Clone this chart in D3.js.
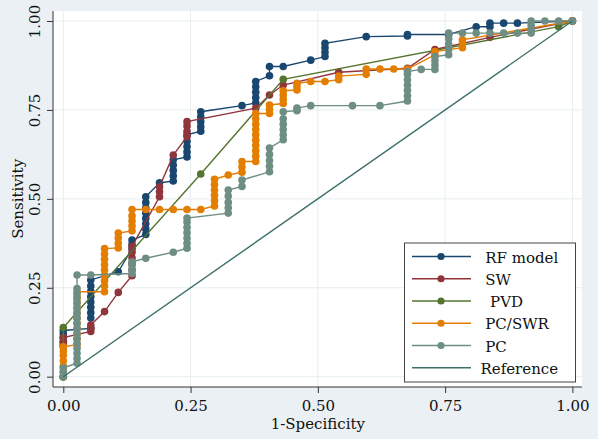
<!DOCTYPE html>
<html>
<head>
<meta charset="utf-8">
<script src="https://cdn.jsdelivr.net/npm/d3@7"></script>
<style>
  html, body { margin: 0; padding: 0; background: #fff; }
  svg { display: block; }
  text { font-family: "DejaVu Serif", serif; fill: #111; }
</style>
</head>
<body>
<div id="chart"></div>
<script>
// ROC points, [1-specificity, sensitivity]
const rfModel = [
  [0, 0], [0, 0.09], [0, 0.10], [0, 0.11], [0, 0.12], [0, 0.13],
  [0.054, 0.136], [0.054, 0.165], [0.054, 0.18], [0.054, 0.195], [0.054, 0.21], [0.054, 0.225], [0.054, 0.24], [0.054, 0.255], [0.054, 0.272],
  [0.108, 0.295],
  [0.135, 0.36], [0.135, 0.372], [0.135, 0.384],
  [0.162, 0.40], [0.162, 0.415], [0.162, 0.43], [0.162, 0.445], [0.162, 0.46], [0.162, 0.475], [0.162, 0.49], [0.162, 0.506],
  [0.189, 0.545],
  [0.216, 0.55], [0.216, 0.565], [0.216, 0.58], [0.216, 0.595], [0.216, 0.61],
  [0.243, 0.618], [0.243, 0.632], [0.243, 0.647], [0.243, 0.662], [0.243, 0.68],
  [0.270, 0.69], [0.270, 0.703], [0.270, 0.717], [0.270, 0.731], [0.270, 0.745],
  [0.351, 0.762],
  [0.378, 0.77], [0.378, 0.785], [0.378, 0.80], [0.378, 0.815], [0.378, 0.83],
  [0.405, 0.846], [0.405, 0.872],
  [0.432, 0.872],
  [0.486, 0.89],
  [0.514, 0.90], [0.514, 0.912], [0.514, 0.925], [0.514, 0.937],
  [0.595, 0.956],
  [0.676, 0.958], [0.676, 0.962],
  [0.757, 0.962],
  [0.811, 0.984],
  [0.838, 0.984], [0.838, 0.994],
  [0.865, 0.994], [0.892, 0.994],
  [1, 1]
];

const sw = [
  [0, 0], [0, 0.085], [0, 0.097], [0, 0.11],
  [0.054, 0.127], [0.054, 0.136], [0.054, 0.145],
  [0.081, 0.183],
  [0.108, 0.237],
  [0.135, 0.284], [0.135, 0.30], [0.135, 0.318], [0.135, 0.334], [0.135, 0.35], [0.135, 0.366],
  [0.189, 0.506], [0.189, 0.52], [0.189, 0.534],
  [0.216, 0.623],
  [0.243, 0.675], [0.243, 0.69], [0.243, 0.705], [0.243, 0.717],
  [0.378, 0.755],
  [0.405, 0.792],
  [0.432, 0.82],
  [0.541, 0.856],
  [0.676, 0.867],
  [0.730, 0.92],
  [0.838, 0.954],
  [1, 1]
];

const pvd = [[0, 0], [0, 0.138], [0.270, 0.57], [0.432, 0.836], [0.973, 0.984], [1, 1]];

const pcSwr = [
  [0, 0], [0, 0.015], [0, 0.03], [0, 0.045], [0, 0.06], [0, 0.072], [0, 0.084],
  [0.027, 0.09], [0.027, 0.105], [0.027, 0.12], [0.027, 0.135], [0.027, 0.15], [0.027, 0.165], [0.027, 0.18], [0.027, 0.195], [0.027, 0.21], [0.027, 0.225], [0.027, 0.239],
  [0.081, 0.239], [0.081, 0.255], [0.081, 0.27], [0.081, 0.285], [0.081, 0.30], [0.081, 0.315], [0.081, 0.33], [0.081, 0.345], [0.081, 0.36],
  [0.108, 0.362], [0.108, 0.375], [0.108, 0.39], [0.108, 0.404],
  [0.135, 0.41], [0.135, 0.424], [0.135, 0.438], [0.135, 0.452], [0.135, 0.47],
  [0.162, 0.47], [0.189, 0.47], [0.216, 0.47], [0.243, 0.47], [0.270, 0.47],
  [0.297, 0.48], [0.297, 0.495], [0.297, 0.51], [0.297, 0.525], [0.297, 0.54], [0.297, 0.555],
  [0.324, 0.567],
  [0.351, 0.575], [0.351, 0.59], [0.351, 0.605],
  [0.378, 0.605], [0.378, 0.62], [0.378, 0.635], [0.378, 0.65], [0.378, 0.665], [0.378, 0.68], [0.378, 0.695], [0.378, 0.71], [0.378, 0.725], [0.378, 0.74],
  [0.405, 0.74], [0.405, 0.752], [0.405, 0.764],
  [0.432, 0.768], [0.432, 0.78], [0.432, 0.792], [0.432, 0.804],
  [0.459, 0.806], [0.459, 0.816], [0.459, 0.825],
  [0.486, 0.83], [0.514, 0.83],
  [0.541, 0.835], [0.541, 0.845],
  [0.595, 0.85], [0.595, 0.865],
  [0.622, 0.865], [0.649, 0.865], [0.676, 0.865],
  [0.730, 0.905], [0.730, 0.914],
  [0.784, 0.925], [0.784, 0.937], [0.784, 0.947],
  [1, 1]
];

const pc = [
  [0, 0], [0, 0.012], [0, 0.025],
  [0.027, 0.038], [0.027, 0.052], [0.027, 0.066], [0.027, 0.08], [0.027, 0.094], [0.027, 0.108], [0.027, 0.122], [0.027, 0.136], [0.027, 0.15], [0.027, 0.164], [0.027, 0.178], [0.027, 0.192], [0.027, 0.206], [0.027, 0.22], [0.027, 0.234], [0.027, 0.248], [0.027, 0.286],
  [0.054, 0.286],
  [0.135, 0.29], [0.135, 0.302], [0.135, 0.313], [0.135, 0.323],
  [0.162, 0.333],
  [0.216, 0.35],
  [0.243, 0.361], [0.243, 0.375], [0.243, 0.39], [0.243, 0.405], [0.243, 0.42], [0.243, 0.435], [0.243, 0.446],
  [0.324, 0.46], [0.324, 0.475], [0.324, 0.49], [0.324, 0.508], [0.324, 0.525],
  [0.351, 0.535], [0.351, 0.553],
  [0.405, 0.576], [0.405, 0.592], [0.405, 0.608], [0.405, 0.625], [0.405, 0.643],
  [0.432, 0.666], [0.432, 0.68], [0.432, 0.695], [0.432, 0.71], [0.432, 0.725], [0.432, 0.745],
  [0.459, 0.748], [0.459, 0.755],
  [0.486, 0.762], [0.568, 0.762], [0.622, 0.762],
  [0.676, 0.775], [0.676, 0.79], [0.676, 0.805], [0.676, 0.82], [0.676, 0.835], [0.676, 0.85], [0.676, 0.858],
  [0.703, 0.864],
  [0.730, 0.864], [0.730, 0.876], [0.730, 0.888], [0.730, 0.90],
  [0.757, 0.905], [0.757, 0.92], [0.757, 0.935], [0.757, 0.95], [0.757, 0.966],
  [0.784, 0.966], [0.811, 0.966], [0.838, 0.966], [0.865, 0.966], [0.892, 0.966],
  [0.919, 0.966], [0.919, 0.977], [0.919, 0.988], [0.919, 1],
  [0.946, 1], [0.973, 1], [1, 1]
];

const referenceLine = [[0, 0], [1, 1]];

const seriesNames = [' RF model', ' SW', '  PVD', ' PC/SWR', ' PC', 'Reference'];
const seriesColors = ['#1a476f', '#90353b', '#55752f', '#e37e00', '#6e8e84', '#3b6f68'];
const tickValues = [0, 0.25, 0.5, 0.75, 1];

const width = 600;
const height = 439;

const svg = d3.select('#chart')
  .append('svg')
  .attr('width', width)
  .attr('height', height);

// graph region + plot region
svg.append('rect')
  .attr('x', 0).attr('y', 0)
  .attr('width', 598).attr('height', height)
  .attr('fill', '#eaf0f3');

const plot = { left: 53, top: 11, right: 582, bottom: 387 };

svg.append('rect')
  .attr('x', plot.left).attr('y', plot.top)
  .attr('width', plot.right - plot.left)
  .attr('height', plot.bottom - plot.top)
  .attr('fill', '#fff');

const x = d3.scaleLinear().domain([0, 1]).range([63.3, 572.4]);
const y = d3.scaleLinear().domain([0, 1]).range([376.7, 21]);

// grid
const grid = svg.append('g').attr('stroke', '#e6eef1').attr('stroke-width', 1);
tickValues.forEach(t => {
  grid.append('line')
    .attr('x1', plot.left).attr('x2', plot.right)
    .attr('y1', y(t)).attr('y2', y(t));
  grid.append('line')
    .attr('x1', x(t)).attr('x2', x(t))
    .attr('y1', plot.top).attr('y2', plot.bottom);
});

// axes
const xAxis = svg.append('g')
  .attr('transform', `translate(0,${plot.bottom})`)
  .call(d3.axisBottom(x).tickValues(tickValues).tickFormat(d3.format('.2f')).tickSize(6).tickSizeOuter(0));

const yAxis = svg.append('g')
  .attr('transform', `translate(${plot.left},0)`)
  .call(d3.axisLeft(y).tickValues(tickValues).tickFormat(d3.format('.2f')).tickSize(6).tickSizeOuter(0));

[xAxis, yAxis].forEach(a => {
  a.select('.domain').remove();
  a.selectAll('.tick line').attr('stroke', '#333');
  a.selectAll('text').style('font-size', '15px').attr('fill', '#111');
});
xAxis.selectAll('text').attr('dy', null).attr('y', 23.8);
yAxis.selectAll('text')
  .attr('x', null).attr('dy', null)
  .attr('text-anchor', 'middle')
  .attr('transform', 'translate(-13,0) rotate(-90)');

svg.append('line')
  .attr('x1', plot.left).attr('x2', plot.left)
  .attr('y1', plot.top).attr('y2', plot.bottom)
  .attr('stroke', '#333');
svg.append('line')
  .attr('x1', plot.left).attr('x2', plot.right)
  .attr('y1', plot.bottom).attr('y2', plot.bottom)
  .attr('stroke', '#333');

svg.append('text')
  .attr('transform', `translate(23,${(y(0) + y(1)) / 2}) rotate(-90)`)
  .attr('text-anchor', 'middle')
  .style('font-size', '15px')
  .text('Sensitivity');

svg.append('text')
  .attr('x', (x(0) + x(1)) / 2)
  .attr('y', 428.5)
  .attr('text-anchor', 'middle')
  .style('font-size', '15px')
  .text('1-Specificity');

// series
const line = d3.line().x(d => x(d[0])).y(d => y(d[1]));
const allSeries = [rfModel, sw, pvd, pcSwr, pc];

allSeries.forEach((pts, i) => {
  const g = svg.append('g');
  g.append('path')
    .datum(pts)
    .attr('fill', 'none')
    .attr('stroke', seriesColors[i])
    .attr('stroke-width', 1.4)
    .attr('d', line);
  g.selectAll('circle')
    .data(pts)
    .enter()
    .append('circle')
    .attr('cx', d => x(d[0]))
    .attr('cy', d => y(d[1]))
    .attr('r', 3.8)
    .attr('fill', seriesColors[i]);
});

svg.append('path')
  .datum(referenceLine)
  .attr('fill', 'none')
  .attr('stroke', seriesColors[5])
  .attr('stroke-width', 1.4)
  .attr('d', line);

// legend
const legend = svg.append('g');
legend.append('rect')
  .attr('x', 404.5).attr('y', 243)
  .attr('width', 171).attr('height', 139)
  .attr('fill', '#fff')
  .attr('stroke', '#444')
  .attr('stroke-width', 1);

seriesNames.forEach((name, i) => {
  const ly = 256.5 + i * 22.25;
  legend.append('line')
    .attr('x1', 412).attr('x2', 471)
    .attr('y1', ly).attr('y2', ly)
    .attr('stroke', seriesColors[i])
    .attr('stroke-width', 1.4);
  if (i < 5) {
    legend.append('circle')
      .attr('cx', 441).attr('cy', ly)
      .attr('r', 3.6)
      .attr('fill', seriesColors[i]);
  }
  legend.append('text')
    .attr('x', 480.5)
    .attr('y', ly + 6)
    .attr('xml:space', 'preserve')
    .style('white-space', 'pre')
    .style('font-size', '15px')
    .text(name);
});
</script>
</body>
</html>
